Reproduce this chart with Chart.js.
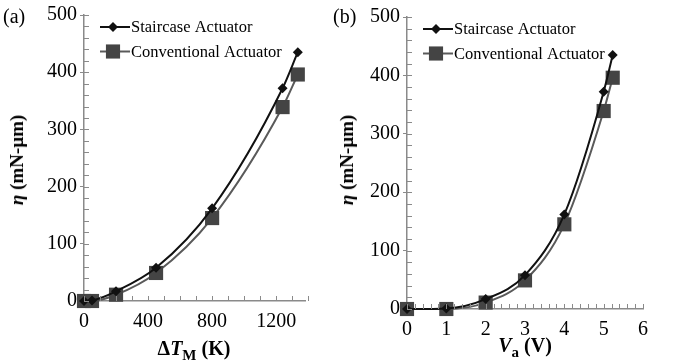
<!DOCTYPE html>
<html>
<head>
<meta charset="utf-8">
<script src="https://cdn.jsdelivr.net/npm/chart.js@4"></script>
<style>
  body { margin: 0; background: #fff; }
  #wrap { position: relative; width: 673px; height: 364px; font-family: "Liberation Serif", "Times New Roman", serif; color: #000; }
  canvas { position: absolute; top: 0; }
  .lbl { position: absolute; font-size: 20px; line-height: 20px; white-space: nowrap; }
  .ytitle { position: absolute; font-size: 19px; font-weight: bold; white-space: nowrap; transform: translate(-50%, -50%) rotate(-90deg); }
  .xtitle { position: absolute; font-size: 20px; font-weight: bold; white-space: nowrap; transform: translate(-50%, -50%); }
  sub { font-size: 15px; vertical-align: -5px; }
</style>
</head>
<body>
<div id="wrap">
  <canvas id="chartA" width="340" height="364" style="left:0"></canvas>
  <canvas id="chartB" width="333" height="364" style="left:340px"></canvas>
  <div class="lbl" style="left:3px;top:6px">(a)</div>
  <div class="lbl" style="left:333px;top:6px">(b)</div>
  <div class="ytitle" style="left:17px;top:160px"><i>η</i> (mN-μm)</div>
  <div class="ytitle" style="left:347px;top:160px"><i>η</i> (mN-μm)</div>
  <div class="xtitle" style="left:194px;top:350px">Δ<i>T</i><sub>M</sub> (K)</div>
  <div class="xtitle" style="left:525px;top:347px"><i>V</i><sub>a</sub> (V)</div>
</div>
<script>
// data
const seriesNames = ["Staircase Actuator", "Conventional Actuator"];
const deltaT = [0, 50, 200, 450, 800, 1240, 1335];
const voltage = [0, 1, 2, 3, 4, 5, 5.23];
const staircase = [0, 1, 17, 58, 162, 372, 435];
const conventional = [0, 0, 11, 49, 145, 339, 396];

const serif = '"Liberation Serif", "Times New Roman", serif';

// inward minor ticks + line/marker legend inside the plot
const decor = {
  id: "decor",
  afterDraw(chart, args, opts) {
    const ctx = chart.ctx;
    const area = chart.chartArea;
    const xs = chart.scales.x, ys = chart.scales.y;
    ctx.save();
    ctx.strokeStyle = "#8a8a8a";
    ctx.lineWidth = 1;
    let n = Math.round((xs.max - xs.min) / opts.xMinor);
    for (let i = 0; i <= n; i++) {
      const px = Math.round(xs.getPixelForValue(xs.min + i * opts.xMinor)) + 0.5;
      ctx.beginPath(); ctx.moveTo(px, area.bottom); ctx.lineTo(px, area.bottom - 5); ctx.stroke();
    }
    n = Math.round((ys.max - ys.min) / opts.yMinor);
    for (let i = 0; i <= n; i++) {
      const py = Math.round(ys.getPixelForValue(ys.min + i * opts.yMinor)) + 0.5;
      ctx.beginPath(); ctx.moveTo(area.left, py); ctx.lineTo(area.left + 5, py); ctx.stroke();
    }

    chart.data.datasets.forEach((ds, i) => {
      const y = area.top + 12 + i * 24.5;
      const x0 = area.left + 16;
      ctx.strokeStyle = ds.borderColor;
      ctx.lineWidth = 2;
      ctx.beginPath(); ctx.moveTo(x0, y); ctx.lineTo(x0 + 30, y); ctx.stroke();
      ctx.fillStyle = ds.pointBackgroundColor;
      const cx = x0 + 13;
      ctx.beginPath();
      if (ds.pointStyle === "rectRot") {
        const r = ds.pointRadius;
        ctx.moveTo(cx, y - r); ctx.lineTo(cx + r, y); ctx.lineTo(cx, y + r); ctx.lineTo(cx - r, y);
        ctx.closePath();
      } else {
        const s = ds.pointRadius * Math.SQRT1_2;
        ctx.rect(cx - s, y - s, 2 * s, 2 * s);
      }
      ctx.fill();
      ctx.fillStyle = "#000";
      ctx.font = "16.5px " + serif;
      ctx.textBaseline = "middle";
      ctx.fillText(ds.label, x0 + 31, y + 1);
    });
    ctx.restore();
  }
};

function makeChart(id, xVals, xOpts, box) {
  const toPts = (ys) => xVals.map((x, i) => ({ x: x, y: ys[i] }));
  return new Chart(document.getElementById(id), {
    type: "line",
    data: {
      datasets: [
        {
          label: seriesNames[0],
          data: toPts(staircase),
          borderColor: "#111",
          borderWidth: 2,
          pointStyle: "rectRot",
          pointRadius: 5,
          pointBackgroundColor: "#111",
          pointBorderWidth: 0,
          cubicInterpolationMode: "monotone",
          clip: false
        },
        {
          label: seriesNames[1],
          data: toPts(conventional),
          borderColor: "#5a5a5a",
          borderWidth: 2,
          pointStyle: "rect",
          pointRadius: 10,
          pointBackgroundColor: "#444",
          pointBorderWidth: 0,
          cubicInterpolationMode: "monotone",
          clip: false
        }
      ]
    },
    options: {
      responsive: false,
      animation: false,
      layout: { padding: { top: box.top, right: box.right, left: 0, bottom: 0 } },
      plugins: {
        legend: { display: false },
        tooltip: { enabled: false },
        decor: { xMinor: xOpts.minor, yMinor: 20 }
      },
      scales: {
        x: {
          type: "linear",
          min: 0,
          max: xOpts.max,
          afterFit: (s) => { s.height = box.bottom; },
          grid: { display: false, drawTicks: false },
          border: { color: "#8a8a8a", width: 1.5 },
          ticks: {
            stepSize: xOpts.step,
            includeBounds: false,
            padding: 9,
            color: "#000",
            font: { family: serif, size: 20 },
            callback: (v) => String(v)
          }
        },
        y: {
          min: 0,
          max: 500,
          afterFit: (s) => { s.width = box.left; },
          grid: { display: true, drawOnChartArea: false, tickLength: 4, color: "#8a8a8a" },
          border: { color: "#8a8a8a", width: 1.5 },
          ticks: {
            stepSize: 100,
            padding: 3,
            color: "#000",
            font: { family: serif, size: 20 },
            callback: (v) => String(v)
          }
        }
      }
    },
    plugins: [decor]
  });
}

makeChart("chartA", deltaT, { max: 1380, step: 400, minor: 100 }, { left: 84, top: 14, right: 35, bottom: 63 });
makeChart("chartB", voltage, { max: 6, step: 1, minor: 0.2 }, { left: 67, top: 17, right: 30, bottom: 55 });
</script>
</body>
</html>
